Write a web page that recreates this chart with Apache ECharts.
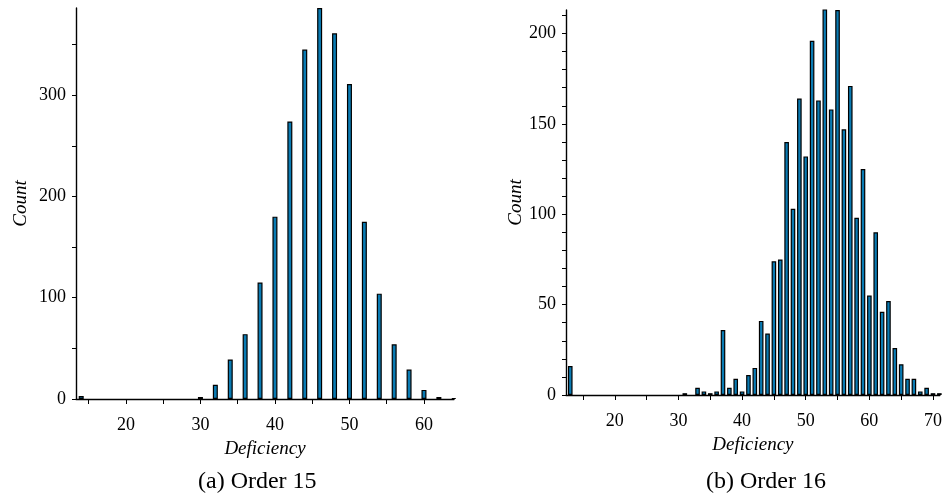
<!DOCTYPE html>
<html>
<head>
<meta charset="utf-8">
<script src="https://cdn.jsdelivr.net/npm/echarts@6/dist/echarts.min.js"></script>
<style>html,body{margin:0;padding:0;background:#fff}#c{width:945px;height:504px}</style>
</head>
<body>
<div id="c"></div>
<script>
// Order 15 histogram
const defA = [14, 30, 32, 34, 36, 38, 40, 42, 44, 46, 48, 50, 52, 54, 56, 58, 60, 62, 64];
const cntA = [3, 2, 14, 39, 64, 115, 180, 274, 345, 386, 361, 311, 175, 104, 54, 29, 9, 2, 1];
// Order 16 histogram
const defB = [13, 31, 33, 34, 35, 36, 37, 38, 39, 40, 41, 42, 43, 44, 45, 46, 47, 48, 49, 50, 51, 52, 53, 54, 55, 56, 57, 58, 59, 60, 61, 62, 63, 64, 65, 66, 67, 68, 69, 70, 71];
const cntB = [16, 1, 4, 2, 1, 2, 36, 4, 9, 2, 11, 15, 41, 34, 74, 75, 140, 103, 164, 132, 196, 163, 214, 158, 213, 147, 171, 98, 125, 55, 90, 46, 52, 26, 17, 9, 9, 2, 4, 1, 1];
// tick labels
const xLabelsA = [20, 30, 40, 50, 60];
const xTicksA = [15, 20, 25, 30, 35, 40, 45, 50, 55, 60];
const yLabelsA = [0, 100, 200, 300];
const yTicksA = [0, 50, 100, 150, 200, 250, 300, 350];
const xLabelsB = [20, 30, 40, 50, 60, 70];
const xTicksB = [15, 20, 25, 30, 35, 40, 45, 50, 55, 60, 65, 70];
const yLabelsB = [0, 50, 100, 150, 200];
const yTicksB = [0, 10, 20, 30, 40, 50, 60, 70, 80, 90, 100, 110, 120, 130, 140, 150, 160, 170, 180, 190, 200, 210];

const serif = 'Liberation Serif';
const barColor = '#0a7bb3';

function xAxis(gi, min, max, labels, ticks) {
  return {
    type: 'value', gridIndex: gi, min: min, max: max,
    name: 'Deficiency', nameLocation: 'middle', nameGap: 40,
    nameTextStyle: {fontFamily: serif, fontStyle: 'italic', fontSize: 19, color: '#000'},
    axisLine: {show: true, onZero: false, lineStyle: {color: '#000', width: 1.4}},
    axisTick: {show: true, inside: false, length: 5, customValues: ticks, lineStyle: {color: '#000'}},
    axisLabel: {show: true, margin: 17, customValues: labels, fontFamily: serif, fontSize: 18, color: '#000'},
    splitLine: {show: false}
  };
}
function yAxis(gi, max, labels, ticks, gap) {
  return {
    type: 'value', gridIndex: gi, min: 0, max: max,
    name: 'Count', nameLocation: 'middle', nameGap: gap, nameRotate: 90,
    nameTextStyle: {fontFamily: serif, fontStyle: 'italic', fontSize: 19, color: '#000'},
    axisLine: {show: true, lineStyle: {color: '#000', width: 1.4}},
    axisTick: {show: true, inside: false, length: 4, customValues: ticks, lineStyle: {color: '#000'}},
    axisLabel: {show: true, margin: 10, customValues: labels, fontFamily: serif, fontSize: 18, color: '#000'},
    splitLine: {show: false}
  };
}

const chart = echarts.init(document.getElementById('c'), null, {renderer: 'canvas'});
chart.setOption({
  animation: false,
  backgroundColor: '#fff',
  grid: [
    {left: 76, top: 8, width: 378, height: 391},
    {left: 566, top: 10, width: 379, height: 385}
  ],
  xAxis: [
    xAxis(0, 13.3, 64.03, xLabelsA, xTicksA),
    xAxis(1, 12.33, 71.08, xLabelsB, xTicksB)
  ],
  yAxis: [
    yAxis(0, 386, yLabelsA, yTicksA, 46),
    yAxis(1, 213, yLabelsB, yTicksB, 37)
  ],
  series: [
    {
      type: 'bar', xAxisIndex: 0, yAxisIndex: 0, barWidth: 5,
      data: defA.map((d, i) => [d, cntA[i]]),
      itemStyle: {color: barColor, borderColor: '#000', borderWidth: 1.2}
    },
    {
      type: 'bar', xAxisIndex: 1, yAxisIndex: 1, barWidth: 4.6,
      data: defB.map((d, i) => [d, cntB[i]]),
      itemStyle: {color: barColor, borderColor: '#000', borderWidth: 1.2}
    }
  ],
  graphic: [
    {type: 'text', left: 268 - 70, top: 470, style: {text: '(a) Order 15', fontFamily: serif, fontSize: 24, fill: '#000', width: 140, align: 'center'}},
    {type: 'text', left: 776 - 70, top: 470, style: {text: '(b) Order 16', fontFamily: serif, fontSize: 24, fill: '#000', width: 140, align: 'center'}}
  ]
});
</script>
</body>
</html>
